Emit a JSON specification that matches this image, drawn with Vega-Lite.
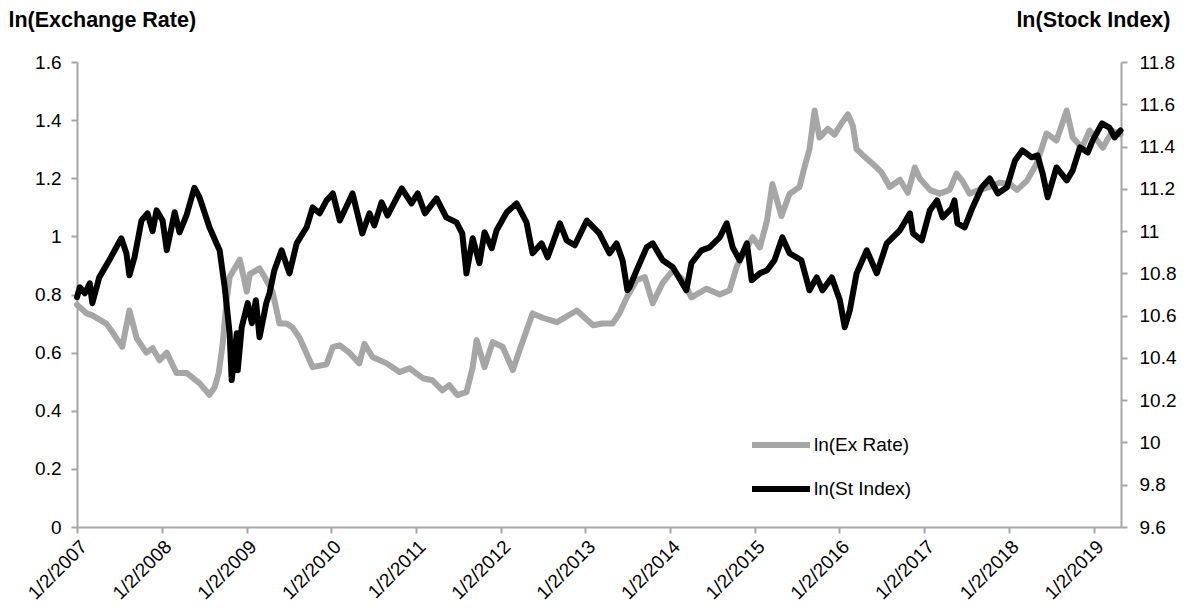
{
  "$schema": "https://vega.github.io/schema/vega-lite/v6.json",
  "width": 1044,
  "height": 465,
  "autosize": {"type": "none"},
  "padding": {"left": 77, "top": 62, "right": 67, "bottom": 85},
  "background": "white",
  "config": {
    "font": "Liberation Sans",
    "view": {"stroke": null},
    "axis": {
      "grid": false,
      "domainColor": "#a6a6a6",
      "domainWidth": 2,
      "tickColor": "#a6a6a6",
      "tickWidth": 2,
      "tickSize": 6,
      "labelColor": "#000000",
      "labelFontSize": 19,
      "labelFont": "Liberation Sans",
      "titleFont": "Liberation Sans",
      "titleFontSize": 21.5,
      "titleFontWeight": "bold",
      "titleColor": "#000000"
    }
  },
  "data": {
    "values": [
      {"d": "2007-01-02", "s": "ln(Ex Rate)", "v": 0.765},
      {"d": "2007-02-13", "s": "ln(Ex Rate)", "v": 0.735},
      {"d": "2007-03-09", "s": "ln(Ex Rate)", "v": 0.728},
      {"d": "2007-05-08", "s": "ln(Ex Rate)", "v": 0.70},
      {"d": "2007-06-04", "s": "ln(Ex Rate)", "v": 0.67},
      {"d": "2007-07-16", "s": "ln(Ex Rate)", "v": 0.62},
      {"d": "2007-08-16", "s": "ln(Ex Rate)", "v": 0.745},
      {"d": "2007-09-16", "s": "ln(Ex Rate)", "v": 0.65},
      {"d": "2007-10-28", "s": "ln(Ex Rate)", "v": 0.60},
      {"d": "2007-11-24", "s": "ln(Ex Rate)", "v": 0.615},
      {"d": "2007-12-24", "s": "ln(Ex Rate)", "v": 0.574},
      {"d": "2008-01-24", "s": "ln(Ex Rate)", "v": 0.60},
      {"d": "2008-03-06", "s": "ln(Ex Rate)", "v": 0.53},
      {"d": "2008-04-18", "s": "ln(Ex Rate)", "v": 0.53},
      {"d": "2008-06-13", "s": "ln(Ex Rate)", "v": 0.495},
      {"d": "2008-07-26", "s": "ln(Ex Rate)", "v": 0.455},
      {"d": "2008-08-17", "s": "ln(Ex Rate)", "v": 0.48},
      {"d": "2008-09-04", "s": "ln(Ex Rate)", "v": 0.53},
      {"d": "2008-09-21", "s": "ln(Ex Rate)", "v": 0.63},
      {"d": "2008-10-08", "s": "ln(Ex Rate)", "v": 0.78},
      {"d": "2008-10-21", "s": "ln(Ex Rate)", "v": 0.86},
      {"d": "2008-12-04", "s": "ln(Ex Rate)", "v": 0.92},
      {"d": "2009-01-03", "s": "ln(Ex Rate)", "v": 0.81},
      {"d": "2009-01-16", "s": "ln(Ex Rate)", "v": 0.87},
      {"d": "2009-02-27", "s": "ln(Ex Rate)", "v": 0.89},
      {"d": "2009-03-28", "s": "ln(Ex Rate)", "v": 0.85},
      {"d": "2009-04-24", "s": "ln(Ex Rate)", "v": 0.81},
      {"d": "2009-05-24", "s": "ln(Ex Rate)", "v": 0.70},
      {"d": "2009-06-23", "s": "ln(Ex Rate)", "v": 0.70},
      {"d": "2009-07-19", "s": "ln(Ex Rate)", "v": 0.687},
      {"d": "2009-08-19", "s": "ln(Ex Rate)", "v": 0.65},
      {"d": "2009-10-14", "s": "ln(Ex Rate)", "v": 0.55},
      {"d": "2009-12-13", "s": "ln(Ex Rate)", "v": 0.56},
      {"d": "2010-01-09", "s": "ln(Ex Rate)", "v": 0.62},
      {"d": "2010-02-08", "s": "ln(Ex Rate)", "v": 0.625},
      {"d": "2010-03-21", "s": "ln(Ex Rate)", "v": 0.60},
      {"d": "2010-05-03", "s": "ln(Ex Rate)", "v": 0.563},
      {"d": "2010-05-25", "s": "ln(Ex Rate)", "v": 0.63},
      {"d": "2010-06-29", "s": "ln(Ex Rate)", "v": 0.585},
      {"d": "2010-08-29", "s": "ln(Ex Rate)", "v": 0.563},
      {"d": "2010-10-23", "s": "ln(Ex Rate)", "v": 0.533},
      {"d": "2010-12-06", "s": "ln(Ex Rate)", "v": 0.546},
      {"d": "2011-02-01", "s": "ln(Ex Rate)", "v": 0.512},
      {"d": "2011-03-14", "s": "ln(Ex Rate)", "v": 0.505},
      {"d": "2011-04-26", "s": "ln(Ex Rate)", "v": 0.47},
      {"d": "2011-05-26", "s": "ln(Ex Rate)", "v": 0.488},
      {"d": "2011-06-30", "s": "ln(Ex Rate)", "v": 0.454},
      {"d": "2011-08-08", "s": "ln(Ex Rate)", "v": 0.464},
      {"d": "2011-09-04", "s": "ln(Ex Rate)", "v": 0.55},
      {"d": "2011-09-21", "s": "ln(Ex Rate)", "v": 0.643},
      {"d": "2011-10-25", "s": "ln(Ex Rate)", "v": 0.55},
      {"d": "2011-11-29", "s": "ln(Ex Rate)", "v": 0.636},
      {"d": "2012-01-11", "s": "ln(Ex Rate)", "v": 0.62},
      {"d": "2012-02-24", "s": "ln(Ex Rate)", "v": 0.54},
      {"d": "2012-03-24", "s": "ln(Ex Rate)", "v": 0.608},
      {"d": "2012-05-19", "s": "ln(Ex Rate)", "v": 0.735},
      {"d": "2012-07-01", "s": "ln(Ex Rate)", "v": 0.72},
      {"d": "2012-09-01", "s": "ln(Ex Rate)", "v": 0.705},
      {"d": "2012-11-26", "s": "ln(Ex Rate)", "v": 0.745},
      {"d": "2013-02-04", "s": "ln(Ex Rate)", "v": 0.694},
      {"d": "2013-03-16", "s": "ln(Ex Rate)", "v": 0.70},
      {"d": "2013-04-29", "s": "ln(Ex Rate)", "v": 0.70},
      {"d": "2013-05-29", "s": "ln(Ex Rate)", "v": 0.735},
      {"d": "2013-06-29", "s": "ln(Ex Rate)", "v": 0.79},
      {"d": "2013-08-11", "s": "ln(Ex Rate)", "v": 0.85},
      {"d": "2013-09-15", "s": "ln(Ex Rate)", "v": 0.86},
      {"d": "2013-10-19", "s": "ln(Ex Rate)", "v": 0.77},
      {"d": "2013-12-01", "s": "ln(Ex Rate)", "v": 0.84},
      {"d": "2014-01-14", "s": "ln(Ex Rate)", "v": 0.883},
      {"d": "2014-02-27", "s": "ln(Ex Rate)", "v": 0.85},
      {"d": "2014-04-04", "s": "ln(Ex Rate)", "v": 0.79},
      {"d": "2014-06-08", "s": "ln(Ex Rate)", "v": 0.82},
      {"d": "2014-08-04", "s": "ln(Ex Rate)", "v": 0.80},
      {"d": "2014-09-16", "s": "ln(Ex Rate)", "v": 0.815},
      {"d": "2014-10-16", "s": "ln(Ex Rate)", "v": 0.895},
      {"d": "2014-11-29", "s": "ln(Ex Rate)", "v": 0.962},
      {"d": "2014-12-24", "s": "ln(Ex Rate)", "v": 0.997},
      {"d": "2015-01-24", "s": "ln(Ex Rate)", "v": 0.962},
      {"d": "2015-02-24", "s": "ln(Ex Rate)", "v": 1.055},
      {"d": "2015-03-19", "s": "ln(Ex Rate)", "v": 1.18},
      {"d": "2015-04-27", "s": "ln(Ex Rate)", "v": 1.07},
      {"d": "2015-06-01", "s": "ln(Ex Rate)", "v": 1.147},
      {"d": "2015-07-14", "s": "ln(Ex Rate)", "v": 1.17},
      {"d": "2015-08-05", "s": "ln(Ex Rate)", "v": 1.24},
      {"d": "2015-08-26", "s": "ln(Ex Rate)", "v": 1.30},
      {"d": "2015-09-17", "s": "ln(Ex Rate)", "v": 1.433},
      {"d": "2015-10-08", "s": "ln(Ex Rate)", "v": 1.34},
      {"d": "2015-11-13", "s": "ln(Ex Rate)", "v": 1.37},
      {"d": "2015-12-12", "s": "ln(Ex Rate)", "v": 1.35},
      {"d": "2016-01-12", "s": "ln(Ex Rate)", "v": 1.39},
      {"d": "2016-02-08", "s": "ln(Ex Rate)", "v": 1.42},
      {"d": "2016-02-29", "s": "ln(Ex Rate)", "v": 1.38},
      {"d": "2016-03-16", "s": "ln(Ex Rate)", "v": 1.30},
      {"d": "2016-04-11", "s": "ln(Ex Rate)", "v": 1.28},
      {"d": "2016-05-24", "s": "ln(Ex Rate)", "v": 1.25},
      {"d": "2016-07-02", "s": "ln(Ex Rate)", "v": 1.22},
      {"d": "2016-08-06", "s": "ln(Ex Rate)", "v": 1.17},
      {"d": "2016-09-19", "s": "ln(Ex Rate)", "v": 1.195},
      {"d": "2016-10-23", "s": "ln(Ex Rate)", "v": 1.15},
      {"d": "2016-11-22", "s": "ln(Ex Rate)", "v": 1.237},
      {"d": "2016-12-13", "s": "ln(Ex Rate)", "v": 1.20},
      {"d": "2017-01-26", "s": "ln(Ex Rate)", "v": 1.16},
      {"d": "2017-03-09", "s": "ln(Ex Rate)", "v": 1.147},
      {"d": "2017-04-21", "s": "ln(Ex Rate)", "v": 1.16},
      {"d": "2017-05-21", "s": "ln(Ex Rate)", "v": 1.216},
      {"d": "2017-06-16", "s": "ln(Ex Rate)", "v": 1.19},
      {"d": "2017-07-16", "s": "ln(Ex Rate)", "v": 1.147},
      {"d": "2017-08-29", "s": "ln(Ex Rate)", "v": 1.16},
      {"d": "2017-10-11", "s": "ln(Ex Rate)", "v": 1.17},
      {"d": "2017-11-24", "s": "ln(Ex Rate)", "v": 1.185},
      {"d": "2018-01-06", "s": "ln(Ex Rate)", "v": 1.18},
      {"d": "2018-02-06", "s": "ln(Ex Rate)", "v": 1.16},
      {"d": "2018-03-19", "s": "ln(Ex Rate)", "v": 1.19},
      {"d": "2018-05-01", "s": "ln(Ex Rate)", "v": 1.25},
      {"d": "2018-06-13", "s": "ln(Ex Rate)", "v": 1.354},
      {"d": "2018-07-26", "s": "ln(Ex Rate)", "v": 1.33},
      {"d": "2018-09-08", "s": "ln(Ex Rate)", "v": 1.433},
      {"d": "2018-10-04", "s": "ln(Ex Rate)", "v": 1.34},
      {"d": "2018-11-12", "s": "ln(Ex Rate)", "v": 1.305},
      {"d": "2018-12-16", "s": "ln(Ex Rate)", "v": 1.364},
      {"d": "2019-02-11", "s": "ln(Ex Rate)", "v": 1.305},
      {"d": "2019-03-24", "s": "ln(Ex Rate)", "v": 1.364},
      {"d": "2019-04-28", "s": "ln(Ex Rate)", "v": 1.35},

      {"d": "2007-01-02", "s": "ln(St Index)", "v": 10.687},
      {"d": "2007-01-14", "s": "ln(St Index)", "v": 10.734},
      {"d": "2007-02-05", "s": "ln(St Index)", "v": 10.706},
      {"d": "2007-02-26", "s": "ln(St Index)", "v": 10.753},
      {"d": "2007-03-09", "s": "ln(St Index)", "v": 10.659},
      {"d": "2007-04-08", "s": "ln(St Index)", "v": 10.781},
      {"d": "2007-05-21", "s": "ln(St Index)", "v": 10.862},
      {"d": "2007-07-12", "s": "ln(St Index)", "v": 10.966},
      {"d": "2007-08-03", "s": "ln(St Index)", "v": 10.895},
      {"d": "2007-08-16", "s": "ln(St Index)", "v": 10.791},
      {"d": "2007-09-07", "s": "ln(St Index)", "v": 10.876},
      {"d": "2007-10-07", "s": "ln(St Index)", "v": 11.05},
      {"d": "2007-11-02", "s": "ln(St Index)", "v": 11.084},
      {"d": "2007-11-24", "s": "ln(St Index)", "v": 11.0},
      {"d": "2007-12-11", "s": "ln(St Index)", "v": 11.098},
      {"d": "2008-01-06", "s": "ln(St Index)", "v": 11.05},
      {"d": "2008-01-24", "s": "ln(St Index)", "v": 10.91},
      {"d": "2008-02-27", "s": "ln(St Index)", "v": 11.089},
      {"d": "2008-03-19", "s": "ln(St Index)", "v": 10.994},
      {"d": "2008-04-18", "s": "ln(St Index)", "v": 11.074},
      {"d": "2008-05-22", "s": "ln(St Index)", "v": 11.205},
      {"d": "2008-06-13", "s": "ln(St Index)", "v": 11.16},
      {"d": "2008-07-26", "s": "ln(St Index)", "v": 11.018},
      {"d": "2008-08-26", "s": "ln(St Index)", "v": 10.94},
      {"d": "2008-09-08", "s": "ln(St Index)", "v": 10.909},
      {"d": "2008-09-30", "s": "ln(St Index)", "v": 10.734},
      {"d": "2008-10-21", "s": "ln(St Index)", "v": 10.517},
      {"d": "2008-10-30", "s": "ln(St Index)", "v": 10.295},
      {"d": "2008-11-21", "s": "ln(St Index)", "v": 10.517},
      {"d": "2008-11-25", "s": "ln(St Index)", "v": 10.342},
      {"d": "2008-12-12", "s": "ln(St Index)", "v": 10.545},
      {"d": "2009-01-07", "s": "ln(St Index)", "v": 10.659},
      {"d": "2009-01-25", "s": "ln(St Index)", "v": 10.564},
      {"d": "2009-02-11", "s": "ln(St Index)", "v": 10.673},
      {"d": "2009-02-27", "s": "ln(St Index)", "v": 10.498},
      {"d": "2009-03-28", "s": "ln(St Index)", "v": 10.659},
      {"d": "2009-04-11", "s": "ln(St Index)", "v": 10.706},
      {"d": "2009-05-02", "s": "ln(St Index)", "v": 10.815},
      {"d": "2009-06-02", "s": "ln(St Index)", "v": 10.909},
      {"d": "2009-07-06", "s": "ln(St Index)", "v": 10.80},
      {"d": "2009-08-06", "s": "ln(St Index)", "v": 10.942},
      {"d": "2009-09-18", "s": "ln(St Index)", "v": 11.018},
      {"d": "2009-10-14", "s": "ln(St Index)", "v": 11.112},
      {"d": "2009-11-13", "s": "ln(St Index)", "v": 11.084},
      {"d": "2009-12-13", "s": "ln(St Index)", "v": 11.145},
      {"d": "2010-01-09", "s": "ln(St Index)", "v": 11.178},
      {"d": "2010-02-08", "s": "ln(St Index)", "v": 11.05},
      {"d": "2010-04-04", "s": "ln(St Index)", "v": 11.178},
      {"d": "2010-05-16", "s": "ln(St Index)", "v": 10.989},
      {"d": "2010-06-16", "s": "ln(St Index)", "v": 11.084},
      {"d": "2010-07-07", "s": "ln(St Index)", "v": 11.027},
      {"d": "2010-08-07", "s": "ln(St Index)", "v": 11.136},
      {"d": "2010-09-02", "s": "ln(St Index)", "v": 11.074},
      {"d": "2010-11-02", "s": "ln(St Index)", "v": 11.202},
      {"d": "2010-12-14", "s": "ln(St Index)", "v": 11.131},
      {"d": "2011-01-10", "s": "ln(St Index)", "v": 11.178},
      {"d": "2011-02-10", "s": "ln(St Index)", "v": 11.084},
      {"d": "2011-04-01", "s": "ln(St Index)", "v": 11.155},
      {"d": "2011-05-13", "s": "ln(St Index)", "v": 11.065},
      {"d": "2011-06-26", "s": "ln(St Index)", "v": 11.041},
      {"d": "2011-07-21", "s": "ln(St Index)", "v": 10.989},
      {"d": "2011-08-08", "s": "ln(St Index)", "v": 10.80},
      {"d": "2011-09-04", "s": "ln(St Index)", "v": 10.966},
      {"d": "2011-10-03", "s": "ln(St Index)", "v": 10.848},
      {"d": "2011-10-25", "s": "ln(St Index)", "v": 10.994},
      {"d": "2011-11-25", "s": "ln(St Index)", "v": 10.919},
      {"d": "2011-12-16", "s": "ln(St Index)", "v": 11.004},
      {"d": "2012-01-29", "s": "ln(St Index)", "v": 11.089},
      {"d": "2012-03-11", "s": "ln(St Index)", "v": 11.131},
      {"d": "2012-04-23", "s": "ln(St Index)", "v": 11.041},
      {"d": "2012-05-19", "s": "ln(St Index)", "v": 10.895},
      {"d": "2012-06-27", "s": "ln(St Index)", "v": 10.942},
      {"d": "2012-07-23", "s": "ln(St Index)", "v": 10.876},
      {"d": "2012-09-14", "s": "ln(St Index)", "v": 11.037},
      {"d": "2012-10-13", "s": "ln(St Index)", "v": 10.956},
      {"d": "2012-11-17", "s": "ln(St Index)", "v": 10.933},
      {"d": "2013-01-08", "s": "ln(St Index)", "v": 11.05},
      {"d": "2013-03-03", "s": "ln(St Index)", "v": 10.989},
      {"d": "2013-04-16", "s": "ln(St Index)", "v": 10.895},
      {"d": "2013-05-16", "s": "ln(St Index)", "v": 10.942},
      {"d": "2013-06-11", "s": "ln(St Index)", "v": 10.862},
      {"d": "2013-07-02", "s": "ln(St Index)", "v": 10.72},
      {"d": "2013-07-11", "s": "ln(St Index)", "v": 10.734},
      {"d": "2013-08-11", "s": "ln(St Index)", "v": 10.815},
      {"d": "2013-09-23", "s": "ln(St Index)", "v": 10.923},
      {"d": "2013-10-19", "s": "ln(St Index)", "v": 10.942},
      {"d": "2013-12-01", "s": "ln(St Index)", "v": 10.862},
      {"d": "2014-01-14", "s": "ln(St Index)", "v": 10.829},
      {"d": "2014-03-13", "s": "ln(St Index)", "v": 10.72},
      {"d": "2014-04-04", "s": "ln(St Index)", "v": 10.848},
      {"d": "2014-05-17", "s": "ln(St Index)", "v": 10.909},
      {"d": "2014-06-21", "s": "ln(St Index)", "v": 10.923},
      {"d": "2014-08-04", "s": "ln(St Index)", "v": 10.97},
      {"d": "2014-09-03", "s": "ln(St Index)", "v": 11.037},
      {"d": "2014-09-29", "s": "ln(St Index)", "v": 10.923},
      {"d": "2014-10-29", "s": "ln(St Index)", "v": 10.862},
      {"d": "2014-11-29", "s": "ln(St Index)", "v": 10.942},
      {"d": "2014-12-20", "s": "ln(St Index)", "v": 10.767},
      {"d": "2015-01-24", "s": "ln(St Index)", "v": 10.80},
      {"d": "2015-02-24", "s": "ln(St Index)", "v": 10.815},
      {"d": "2015-03-28", "s": "ln(St Index)", "v": 10.862},
      {"d": "2015-05-01", "s": "ln(St Index)", "v": 10.97},
      {"d": "2015-06-01", "s": "ln(St Index)", "v": 10.895},
      {"d": "2015-07-22", "s": "ln(St Index)", "v": 10.862},
      {"d": "2015-08-26", "s": "ln(St Index)", "v": 10.72},
      {"d": "2015-09-26", "s": "ln(St Index)", "v": 10.781},
      {"d": "2015-10-21", "s": "ln(St Index)", "v": 10.72},
      {"d": "2015-11-30", "s": "ln(St Index)", "v": 10.781},
      {"d": "2016-01-04", "s": "ln(St Index)", "v": 10.673},
      {"d": "2016-01-25", "s": "ln(St Index)", "v": 10.545},
      {"d": "2016-02-16", "s": "ln(St Index)", "v": 10.626},
      {"d": "2016-03-16", "s": "ln(St Index)", "v": 10.80},
      {"d": "2016-04-29", "s": "ln(St Index)", "v": 10.909},
      {"d": "2016-06-11", "s": "ln(St Index)", "v": 10.80},
      {"d": "2016-07-24", "s": "ln(St Index)", "v": 10.942},
      {"d": "2016-09-19", "s": "ln(St Index)", "v": 11.004},
      {"d": "2016-11-01", "s": "ln(St Index)", "v": 11.084},
      {"d": "2016-11-14", "s": "ln(St Index)", "v": 10.989},
      {"d": "2016-12-22", "s": "ln(St Index)", "v": 10.956},
      {"d": "2017-01-26", "s": "ln(St Index)", "v": 11.098},
      {"d": "2017-02-26", "s": "ln(St Index)", "v": 11.145},
      {"d": "2017-03-22", "s": "ln(St Index)", "v": 11.065},
      {"d": "2017-04-30", "s": "ln(St Index)", "v": 11.108},
      {"d": "2017-05-12", "s": "ln(St Index)", "v": 11.145},
      {"d": "2017-05-25", "s": "ln(St Index)", "v": 11.037},
      {"d": "2017-06-25", "s": "ln(St Index)", "v": 11.018},
      {"d": "2017-07-29", "s": "ln(St Index)", "v": 11.112},
      {"d": "2017-09-07", "s": "ln(St Index)", "v": 11.207},
      {"d": "2017-10-11", "s": "ln(St Index)", "v": 11.249},
      {"d": "2017-11-15", "s": "ln(St Index)", "v": 11.178},
      {"d": "2017-12-24", "s": "ln(St Index)", "v": 11.207},
      {"d": "2018-01-28", "s": "ln(St Index)", "v": 11.334},
      {"d": "2018-03-01", "s": "ln(St Index)", "v": 11.382},
      {"d": "2018-04-10", "s": "ln(St Index)", "v": 11.349},
      {"d": "2018-05-05", "s": "ln(St Index)", "v": 11.358},
      {"d": "2018-05-27", "s": "ln(St Index)", "v": 11.273},
      {"d": "2018-06-18", "s": "ln(St Index)", "v": 11.16},
      {"d": "2018-07-26", "s": "ln(St Index)", "v": 11.301},
      {"d": "2018-09-08", "s": "ln(St Index)", "v": 11.24},
      {"d": "2018-10-04", "s": "ln(St Index)", "v": 11.287},
      {"d": "2018-11-04", "s": "ln(St Index)", "v": 11.396},
      {"d": "2018-12-08", "s": "ln(St Index)", "v": 11.372},
      {"d": "2018-12-29", "s": "ln(St Index)", "v": 11.429},
      {"d": "2019-02-07", "s": "ln(St Index)", "v": 11.509},
      {"d": "2019-03-11", "s": "ln(St Index)", "v": 11.49},
      {"d": "2019-04-02", "s": "ln(St Index)", "v": 11.443},
      {"d": "2019-04-28", "s": "ln(St Index)", "v": 11.476}
    ]
  },
  "encoding": {
    "x": {
      "field": "d",
      "type": "temporal",
      "scale": {
        "type": "utc",
        "domain": [
          {"year": 2007, "month": 1, "date": 2, "utc": true},
          {"year": 2019, "month": 4, "date": 30, "utc": true}
        ]
      },
      "axis": {
        "title": null,
        "format": "%-m/%-d/%Y",
        "labelAngle": -45,
        "labelAlign": "right",
        "labelBaseline": "top",
        "labelPadding": 4,
        "labelOverlap": false,
        "values": [
          {"year": 2007, "month": 1, "date": 2, "utc": true},
          {"year": 2008, "month": 1, "date": 2, "utc": true},
          {"year": 2009, "month": 1, "date": 2, "utc": true},
          {"year": 2010, "month": 1, "date": 2, "utc": true},
          {"year": 2011, "month": 1, "date": 2, "utc": true},
          {"year": 2012, "month": 1, "date": 2, "utc": true},
          {"year": 2013, "month": 1, "date": 2, "utc": true},
          {"year": 2014, "month": 1, "date": 2, "utc": true},
          {"year": 2015, "month": 1, "date": 2, "utc": true},
          {"year": 2016, "month": 1, "date": 2, "utc": true},
          {"year": 2017, "month": 1, "date": 2, "utc": true},
          {"year": 2018, "month": 1, "date": 2, "utc": true},
          {"year": 2019, "month": 1, "date": 2, "utc": true}
        ]
      }
    },
    "color": {
      "field": "s",
      "type": "nominal",
      "scale": {"domain": ["ln(Ex Rate)", "ln(St Index)"], "range": ["#a6a6a6", "#000000"]},
      "legend": {
        "title": null,
        "orient": "none",
        "legendX": 672,
        "legendY": 351,
        "symbolType": "stroke",
        "symbolSize": 3364,
        "symbolStrokeWidth": 6,
        "labelFontSize": 19,
        "labelFont": "Liberation Sans",
        "labelColor": "#000000",
        "labelOffset": 1,
        "rowPadding": 0
      }
    }
  },
  "layer": [
    {
      "transform": [{"filter": "datum.s == 'ln(Ex Rate)'"}],
      "mark": {"type": "line", "strokeWidth": 6, "strokeJoin": "round", "strokeCap": "round"},
      "encoding": {
        "y": {
          "field": "v",
          "type": "quantitative",
          "scale": {"domain": [0, 1.6], "nice": false, "zero": false},
          "axis": {
            "title": "ln(Exchange Rate)",
            "orient": "left",
            "values": [0, 0.2, 0.4, 0.6, 0.8, 1, 1.2, 1.4, 1.6],
            "format": "~g",
            "labelPadding": 10,
            "titleAngle": 0,
            "titleAlign": "left",
            "titleBaseline": "middle",
            "titleX": -69,
            "titleY": -42
          }
        }
      }
    },
    {
      "transform": [{"filter": "datum.s == 'ln(St Index)'"}],
      "mark": {"type": "line", "strokeWidth": 6, "strokeJoin": "round", "strokeCap": "round"},
      "encoding": {
        "y": {
          "field": "v",
          "type": "quantitative",
          "scale": {"domain": [9.6, 11.8], "nice": false, "zero": false},
          "axis": {
            "title": "ln(Stock Index)",
            "orient": "right",
            "values": [9.6, 9.8, 10, 10.2, 10.4, 10.6, 10.8, 11, 11.2, 11.4, 11.6, 11.8],
            "format": "~g",
            "labelPadding": 12,
            "titleAngle": 0,
            "titleAlign": "right",
            "titleBaseline": "middle",
            "titleX": 49,
            "titleY": -42
          }
        }
      }
    }
  ],
  "resolve": {"scale": {"y": "independent"}}
}
